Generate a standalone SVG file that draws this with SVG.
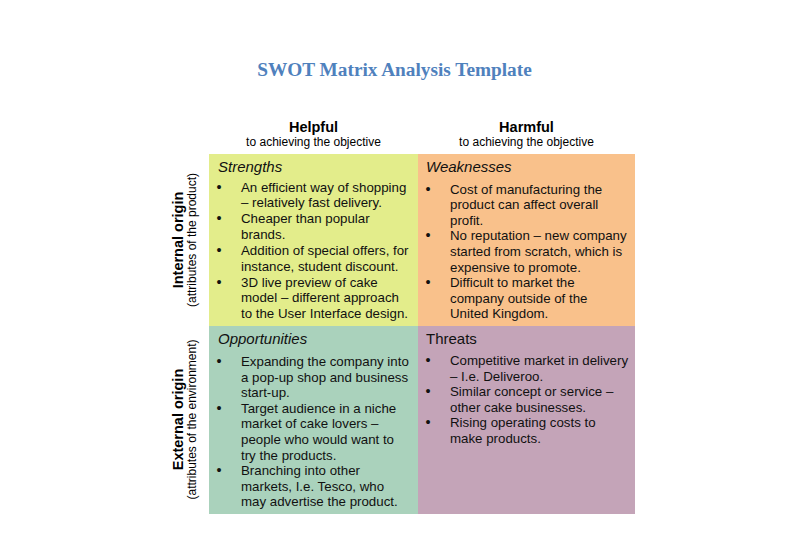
<svg xmlns="http://www.w3.org/2000/svg" width="799" height="540" viewBox="0 0 799 540">
  <style>
    .title { font-family: "Liberation Serif", "Times New Roman", serif; font-weight: bold; font-size: 19.3px; fill: #4F81BD; }
    .col-head { font-family: "Liberation Sans", Arial, sans-serif; font-weight: bold; font-size: 14.5px; fill: #000; }
    .col-sub { font-family: "Liberation Sans", Arial, sans-serif; font-size: 12px; fill: #000; }
    .row-head { font-family: "Liberation Sans", Arial, sans-serif; font-weight: bold; font-size: 14.5px; fill: #000; }
    .row-sub { font-family: "Liberation Sans", Arial, sans-serif; font-size: 12px; fill: #000; }
    .cell-title { font-family: "Liberation Sans", Arial, sans-serif; font-size: 15px; fill: #111; }
    .it { font-style: italic; }
    .body { font-family: "Liberation Sans", Arial, sans-serif; font-size: 13.3px; fill: #111; }
    .dot { font-size: 14.5px; }
  </style>

  <rect width="799" height="540" fill="#ffffff"/>

  <text class="title" x="394.5" y="76" text-anchor="middle">SWOT Matrix Analysis Template</text>

  <!-- column headers -->
  <g id="col-helpful">
    <text class="col-head" x="313.5" y="132" text-anchor="middle">Helpful</text>
    <text class="col-sub" x="313.5" y="146" text-anchor="middle">to achieving the objective</text>
  </g>
  <g id="col-harmful">
    <text class="col-head" x="526.5" y="132" text-anchor="middle">Harmful</text>
    <text class="col-sub" x="526.5" y="146" text-anchor="middle">to achieving the objective</text>
  </g>

  <!-- row headers -->
  <g id="row-internal">
    <text class="row-head" transform="translate(183,240) rotate(-90)" text-anchor="middle">Internal origin</text>
    <text class="row-sub" transform="translate(196,240) rotate(-90)" text-anchor="middle">(attributes of the product)</text>
  </g>
  <g id="row-external">
    <text class="row-head" transform="translate(183,419.5) rotate(-90)" text-anchor="middle">External origin</text>
    <text class="row-sub" transform="translate(196,419.5) rotate(-90)" text-anchor="middle">(attributes of the environment)</text>
  </g>

  <!-- quadrants -->
  <g id="strengths">
    <rect x="209" y="154" width="209" height="172" fill="#E3ED8B"/>
    <text class="cell-title it" x="218" y="172">Strengths</text>
    <g class="body">
      <text class="dot" x="216.5" y="191.5">•</text>
      <text x="241" y="191.5">An efficient way of shopping</text>
      <text x="241" y="207.3">– relatively fast delivery.</text>
      <text class="dot" x="216.5" y="223.2">•</text>
      <text x="241" y="223.2">Cheaper than popular</text>
      <text x="241" y="239">brands.</text>
      <text class="dot" x="216.5" y="254.9">•</text>
      <text x="241" y="254.9">Addition of special offers, for</text>
      <text x="241" y="270.7">instance, student discount.</text>
      <text class="dot" x="216.5" y="286.6">•</text>
      <text x="241" y="286.6">3D live preview of cake</text>
      <text x="241" y="302.4">model – different approach</text>
      <text x="241" y="318.3">to the User Interface design.</text>
    </g>
  </g>

  <g id="weaknesses">
    <rect x="418" y="154" width="217" height="172" fill="#F9C18B"/>
    <text class="cell-title it" x="426" y="172">Weaknesses</text>
    <g class="body">
      <text class="dot" x="425.5" y="193.5">•</text>
      <text x="450" y="193.5">Cost of manufacturing the</text>
      <text x="450" y="209.1">product can affect overall</text>
      <text x="450" y="224.7">profit.</text>
      <text class="dot" x="425.5" y="240.3">•</text>
      <text x="450" y="240.3">No reputation – new company</text>
      <text x="450" y="255.9">started from scratch, which is</text>
      <text x="450" y="271.5">expensive to promote.</text>
      <text class="dot" x="425.5" y="287.1">•</text>
      <text x="450" y="287.1">Difficult to market the</text>
      <text x="450" y="302.7">company outside of the</text>
      <text x="450" y="318.3">United Kingdom.</text>
    </g>
  </g>

  <g id="opportunities">
    <rect x="209" y="326" width="209" height="188" fill="#AAD2BC"/>
    <text class="cell-title it" x="218" y="344">Opportunities</text>
    <g class="body">
      <text class="dot" x="216.5" y="366">•</text>
      <text x="241" y="366">Expanding the company into</text>
      <text x="241" y="381.6">a pop-up shop and business</text>
      <text x="241" y="397.2">start-up.</text>
      <text class="dot" x="216.5" y="412.8">•</text>
      <text x="241" y="412.8">Target audience in a niche</text>
      <text x="241" y="428.4">market of cake lovers –</text>
      <text x="241" y="444">people who would want to</text>
      <text x="241" y="459.6">try the products.</text>
      <text class="dot" x="216.5" y="475.2">•</text>
      <text x="241" y="475.2">Branching into other</text>
      <text x="241" y="490.8">markets, I.e. Tesco, who</text>
      <text x="241" y="506.4">may advertise the product.</text>
    </g>
  </g>

  <g id="threats">
    <rect x="418" y="326" width="217" height="188" fill="#C4A4B8"/>
    <text class="cell-title" x="426" y="344">Threats</text>
    <g class="body">
      <text class="dot" x="425.5" y="365">•</text>
      <text x="450" y="365">Competitive market in delivery</text>
      <text x="450" y="380.6">– I.e. Deliveroo.</text>
      <text class="dot" x="425.5" y="396.2">•</text>
      <text x="450" y="396.2">Similar concept or service –</text>
      <text x="450" y="411.8">other cake businesses.</text>
      <text class="dot" x="425.5" y="427.4">•</text>
      <text x="450" y="427.4">Rising operating costs to</text>
      <text x="450" y="443">make products.</text>
    </g>
  </g>
</svg>
